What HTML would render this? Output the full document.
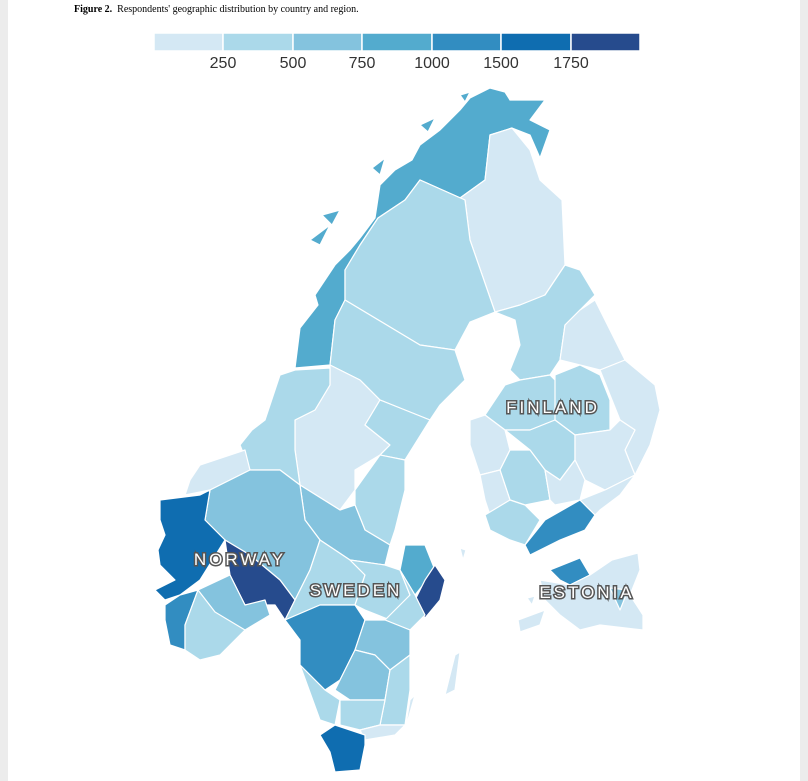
<!DOCTYPE html>
<html><head><meta charset="utf-8"><style>
body{margin:0;background:#ececec;}
.pg{position:absolute;left:8px;top:0;width:792px;height:781px;background:#fff;}
.t{position:absolute;left:74px;top:4px;font:10px "Liberation Serif",serif;color:#000;}
svg{position:absolute;left:0;top:0;}
.lab{font:17px "Liberation Sans",sans-serif;letter-spacing:3px;fill:#fff;stroke:#555;stroke-width:3px;paint-order:stroke;text-anchor:middle;}
</style></head><body>
<div class="pg"></div>
<div class="t"><b>Figure 2.</b>&nbsp; Respondents' geographic distribution by country and region.</div>
<svg width="808" height="781" viewBox="0 0 808 781">
<g stroke="#fff" stroke-width="1.5">
<rect x="154" y="33" width="69" height="18" fill="#d4e8f4"/>
<rect x="223" y="33" width="70" height="18" fill="#abd9ea"/>
<rect x="293" y="33" width="69" height="18" fill="#84c3de"/>
<rect x="362" y="33" width="70" height="18" fill="#53abce"/>
<rect x="432" y="33" width="69" height="18" fill="#328dc1"/>
<rect x="501" y="33" width="70" height="18" fill="#0f6db0"/>
<rect x="571" y="33" width="69" height="18" fill="#264b8d"/>
</g>
<g font-family="Liberation Sans,sans-serif" font-size="16" fill="#333" text-anchor="middle">
<text x="223" y="68">250</text><text x="293" y="68">500</text><text x="362" y="68">750</text><text x="432" y="68">1000</text><text x="501" y="68">1500</text><text x="571" y="68">1750</text>
</g>
<g stroke="#fff" stroke-width="1.2" stroke-linejoin="round">
<polygon fill="#53abce" points="295,368 300,328 318,305 315,295 335,265 350,250 360,238 375,218 380,185 395,170 412,160 420,145 440,130 460,110 470,98 490,88 505,92 510,100 545,100 530,120 550,130 540,158 530,135 512,128 490,135 485,180 460,198 420,180 405,200 378,218 360,245 345,270 345,300 335,320 330,365"/>
<polygon fill="#53abce" points="310,240 330,225 320,245"/><polygon fill="#53abce" points="322,215 340,210 332,225"/><polygon fill="#53abce" points="372,168 385,158 380,175"/><polygon fill="#53abce" points="420,125 435,118 428,132"/><polygon fill="#53abce" points="460,95 470,92 465,102"/>
<polygon fill="#d4e8f4" points="420,180 460,198 485,180 490,135 512,128 530,150 540,180 562,200 565,265 545,295 520,305 495,312 470,240 465,200"/>
<polygon fill="#abd9ea" points="405,200 420,180 465,200 470,240 495,312 470,322 455,350 420,345 395,330 345,300 345,270 360,245 378,218"/>
<polygon fill="#abd9ea" points="335,320 345,300 395,330 420,345 455,350 465,380 440,405 430,420 405,410 380,400 360,380 330,365"/>
<polygon fill="#d4e8f4" points="330,365 360,380 380,400 365,425 390,445 380,455 355,470 355,490 340,510 300,485 295,450 295,420 315,410 330,385"/>
<polygon fill="#abd9ea" points="380,400 405,410 430,420 405,460 380,455 390,445 365,425"/>
<polygon fill="#abd9ea" points="355,490 380,455 405,460 405,490 395,530 390,545 365,530 355,505"/>
<polygon fill="#84c3de" points="300,485 340,510 355,505 365,530 390,545 385,565 350,560 320,540 305,520"/>
<polygon fill="#abd9ea" points="265,420 280,375 295,370 330,368 330,385 315,410 295,420 295,450 300,485 280,470 250,470 240,445 252,430"/>
<polygon fill="#d4e8f4" points="200,465 215,460 245,450 250,470 210,490 185,495 190,480"/>
<polygon fill="#84c3de" points="210,490 250,470 280,470 300,485 305,520 320,540 310,570 295,600 280,580 250,555 225,540 205,520"/>
<polygon fill="#0f6db0" points="160,500 200,495 210,490 205,520 225,540 200,580 180,595 165,600 155,590 175,580 160,565 158,550 165,535 160,520"/>
<polygon fill="#264b8d" points="225,540 250,555 280,580 295,600 285,620 275,605 245,605 230,575"/>
<polygon fill="#328dc1" points="165,605 180,595 198,590 185,625 185,650 170,645 165,620"/>
<polygon fill="#abd9ea" points="198,590 185,625 185,650 200,660 220,655 245,630 240,625 215,610"/>
<polygon fill="#84c3de" points="198,590 230,575 245,605 265,600 270,615 245,630 215,612"/>
<polygon fill="#abd9ea" points="295,600 310,570 320,540 350,560 365,575 355,605 320,605 285,620"/>
<polygon fill="#abd9ea" points="350,560 385,565 400,570 410,595 390,620 365,610 355,605 365,575"/>
<polygon fill="#53abce" points="405,545 425,545 435,570 415,595 400,570"/>
<polygon fill="#264b8d" points="435,565 445,580 440,600 425,618 415,600 425,580"/>
<polygon fill="#abd9ea" points="400,570 415,595 425,615 410,630 385,620 410,595"/>
<polygon fill="#328dc1" points="285,620 320,605 355,605 365,620 355,650 340,680 325,690 300,665 300,640"/>
<polygon fill="#84c3de" points="365,620 385,620 410,630 410,655 390,670 375,655 355,650"/>
<polygon fill="#84c3de" points="355,650 375,655 390,670 385,700 350,700 335,690 340,680"/>
<polygon fill="#abd9ea" points="390,670 410,655 410,690 405,725 380,725 385,700"/>
<polygon fill="#abd9ea" points="300,665 325,690 340,700 335,725 320,720"/>
<polygon fill="#abd9ea" points="340,700 385,700 380,725 360,730 340,725"/>
<polygon fill="#d4e8f4" points="360,730 380,725 405,725 395,735 365,740"/>
<polygon fill="#0f6db0" points="320,735 335,725 365,735 365,745 360,770 335,772 330,752"/>
<polygon fill="#d4e8f4" points="455,655 460,652 455,690 445,695"/>
<polygon fill="#d4e8f4" points="410,700 415,695 405,730"/>
<polygon fill="#d4e8f4" points="460,548 466,550 463,560"/>
<polygon fill="#abd9ea" points="495,312 520,305 545,295 565,265 580,270 595,295 580,310 565,325 560,360 550,375 520,380 510,370 520,345 515,320"/>
<polygon fill="#d4e8f4" points="565,325 580,310 595,300 625,360 600,370 580,365 560,360"/>
<polygon fill="#d4e8f4" points="600,370 625,360 655,385 660,410 650,445 635,475 625,450 635,430 620,420"/>
<polygon fill="#abd9ea" points="485,415 505,385 520,380 550,375 560,385 555,420 530,430 505,430"/>
<polygon fill="#abd9ea" points="555,375 580,365 600,375 610,400 610,430 575,435 555,420"/>
<polygon fill="#d4e8f4" points="470,420 485,415 505,430 510,450 500,470 480,475 470,445"/>
<polygon fill="#abd9ea" points="505,430 530,430 555,420 575,435 575,460 560,480 545,470 530,450"/>
<polygon fill="#abd9ea" points="500,470 510,450 530,450 545,470 550,500 525,505 510,500"/>
<polygon fill="#d4e8f4" points="480,475 500,470 510,500 490,515 485,500"/>
<polygon fill="#d4e8f4" points="575,435 610,430 620,420 635,430 625,450 635,475 605,490 585,480 575,460"/>
<polygon fill="#d4e8f4" points="545,470 560,480 575,460 585,480 580,500 555,505 550,500"/>
<polygon fill="#abd9ea" points="485,515 510,500 525,505 540,520 525,545 510,540 490,530"/>
<polygon fill="#328dc1" points="525,545 545,520 580,500 595,515 585,530 560,540 530,555"/>
<polygon fill="#d4e8f4" points="580,500 605,490 635,475 620,495 600,510 595,515"/>
<polygon fill="#328dc1" points="550,570 580,558 590,575 570,585 560,580"/>
<polygon fill="#d4e8f4" points="540,580 570,585 590,575 612,560 638,553 640,570 630,595 643,615 643,630 600,625 580,630 560,615 545,600"/>
<polygon fill="#84c3de" points="610,588 628,590 620,610"/>
<polygon fill="#d4e8f4" points="518,620 545,610 540,625 520,632"/>
<polygon fill="#d4e8f4" points="527,598 535,596 532,605"/>
</g>
<text class="lab" x="553" y="413">FINLAND</text>
<text class="lab" x="356" y="596">SWEDEN</text>
<text class="lab" x="240" y="565">NORWAY</text>
<text class="lab" x="587" y="598">ESTONIA</text>
</svg>
</body></html>
